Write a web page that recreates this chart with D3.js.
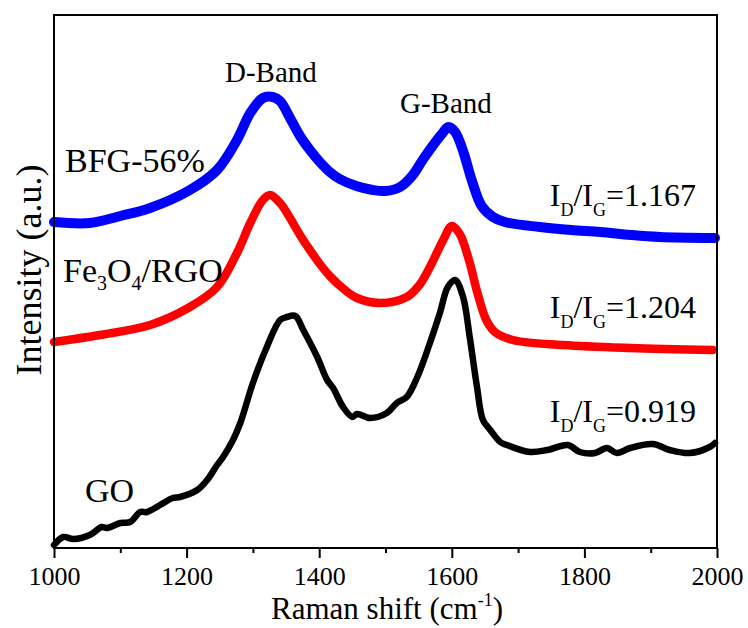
<!DOCTYPE html>
<html>
<head>
<meta charset="utf-8">
<script src="https://cdn.jsdelivr.net/npm/d3@7"></script>
<style>
  body { margin: 0; background: #fff; }
  text { font-family: "Liberation Serif", "Times New Roman", serif; fill: #000; }
</style>
</head>
<body>
<div id="chart"></div>
<script>
// dimensions
var width = 748;
var height = 628;
var margin = {top: 15, right: 31, bottom: 80, left: 54};

// Raman shift (cm-1) of each read point, and intensity (a.u., offset stacked)
var blueShift = [1000, 1054, 1100, 1145, 1205, 1246, 1276, 1296, 1315, 1330, 1341, 1356, 1371, 1386, 1401, 1416, 1431, 1456, 1481, 1500, 1522, 1540, 1556, 1572, 1585, 1595, 1605, 1617, 1630, 1645, 1662, 1680, 1733, 1780, 1824, 1870, 1914, 1997];
var blueInt   = [326, 325, 332, 340, 358, 378, 408, 435, 450, 451, 447, 430, 412, 398, 386, 376, 369, 362, 358, 357, 361, 372, 388, 403, 414, 421, 416, 397, 368, 342, 331, 326, 321, 318, 316, 313, 311, 310];

var redShift = [1000, 1069, 1145, 1205, 1246, 1276, 1296, 1315, 1326, 1341, 1356, 1371, 1386, 1401, 1416, 1437, 1457, 1492, 1532, 1550, 1567, 1587, 1600, 1612, 1625, 1640, 1652, 1665, 1692, 1768, 1869, 1994];
var redInt   = [206, 213, 223, 241, 261, 295, 325, 348, 353, 345, 330, 313, 298, 284, 272, 259, 250, 245, 251, 262, 281, 308, 322, 314, 290, 252, 228, 216, 208, 203, 200, 198];

var goShift = [1000, 1014, 1029, 1054, 1072, 1080, 1100, 1115, 1130, 1140, 1160, 1179, 1190, 1216, 1231, 1246, 1255, 1270, 1281, 1300, 1321, 1341, 1351, 1364, 1376, 1397, 1412, 1421, 1436, 1450, 1457, 1477, 1502, 1517, 1532, 1548, 1567, 1582, 1594, 1605, 1617, 1627, 1638, 1647, 1658, 1673, 1683, 1718, 1744, 1775, 1793, 1816, 1834, 1849, 1869, 1903, 1929, 1959, 1989, 1997];
var goInt   = [3, 11, 9, 13, 21, 20, 25, 26, 36, 36, 43, 50, 51, 58, 68, 83, 91, 108, 125, 165, 201, 228, 231, 232, 218, 191, 168, 160, 141, 131, 134, 130, 135, 145, 151, 171, 205, 235, 261, 268, 251, 211, 161, 128, 118, 106, 103, 96, 98, 103, 96, 95, 100, 95, 100, 104, 98, 95, 101, 105];

var xTicks = [1000, 1200, 1400, 1600, 1800, 2000];
var xMinor = [1100, 1300, 1500, 1700, 1900];

var svg = d3.select("#chart")
    .append("svg")
    .attr("width", width)
    .attr("height", height);

var x = d3.scaleLinear()
    .domain([1000, 2000])
    .range([margin.left, width - margin.right]);

var y = d3.scaleLinear()
    .domain([0, 533])
    .range([height - margin.bottom, margin.top]);

function zip(xs, ys) {
    return xs.map(function (d, i) { return [d, ys[i]]; });
}

var line = d3.line()
    .x(function (d) { return x(d[0]); })
    .y(function (d) { return y(d[1]); })
    .curve(d3.curveCatmullRom.alpha(0.5));

// curves
var series = [
    {data: zip(goShift, goInt), color: "#000000", w: 6.5},
    {data: zip(redShift, redInt), color: "#ff0000", w: 8.5},
    {data: zip(blueShift, blueInt), color: "#0000ff", w: 10}
];

svg.append("g")
    .selectAll("path")
    .data(series)
    .enter()
    .append("path")
    .attr("d", function (d) { return line(d.data); })
    .style("fill", "none")
    .style("stroke", function (d) { return d.color; })
    .style("stroke-width", function (d) { return d.w; })
    .style("stroke-linejoin", "round")
    .style("stroke-linecap", "round");

// frame
svg.append("rect")
    .attr("x", margin.left)
    .attr("y", margin.top)
    .attr("width", width - margin.left - margin.right)
    .attr("height", height - margin.top - margin.bottom)
    .style("fill", "none")
    .style("stroke", "#000")
    .style("stroke-width", 2);

// bottom axis
var xAxis = svg.append("g")
    .attr("transform", "translate(0," + (height - margin.bottom) + ")")
    .call(d3.axisBottom(x).tickValues(xTicks).tickSize(10).tickPadding(9).tickFormat(d3.format("d")));
xAxis.select(".domain").remove();
xAxis.selectAll(".tick line").style("stroke-width", 2);
xAxis.selectAll("text")
    .style("font-size", "26px")
    .style("font-family", "Liberation Serif");

var xAxisMinor = svg.append("g")
    .attr("transform", "translate(0," + (height - margin.bottom) + ")")
    .call(d3.axisBottom(x).tickValues(xMinor).tickSize(5).tickFormat(""));
xAxisMinor.select(".domain").remove();
xAxisMinor.selectAll(".tick line").style("stroke-width", 2);

// axis titles
var xTitle = svg.append("text")
    .attr("x", 387)
    .attr("y", 619)
    .attr("text-anchor", "middle")
    .style("font-size", "31px");
xTitle.append("tspan").text("Raman shift (cm");
xTitle.append("tspan").attr("dy", -13).style("font-size", "18px").text("-1");
xTitle.append("tspan").attr("dy", 13).text(")");

svg.append("text")
    .attr("transform", "translate(41,270) rotate(-90)")
    .attr("text-anchor", "middle")
    .style("font-size", "36px")
    .text("Intensity (a.u.)");

// band labels
svg.append("text").attr("x", 225).attr("y", 82).style("font-size", "29px").text("D-Band");
svg.append("text").attr("x", 400).attr("y", 113).style("font-size", "29px").text("G-Band");

// sample labels
svg.append("text").attr("x", 65).attr("y", 172).style("font-size", "34px").text("BFG-56%");
var fe = svg.append("text").attr("x", 63).attr("y", 282).style("font-size", "34px");
fe.append("tspan").text("Fe");
fe.append("tspan").attr("dy", 8).style("font-size", "20px").text("3");
fe.append("tspan").attr("dy", -8).text("O");
fe.append("tspan").attr("dy", 8).style("font-size", "20px").text("4");
fe.append("tspan").attr("dy", -8).text("/RGO");
svg.append("text").attr("x", 85).attr("y", 502).style("font-size", "34px").text("GO");

// ID/IG ratio labels
var ratios = ["1.167", "1.204", "0.919"];
var ratioY = [206, 318, 422];
ratios.forEach(function (r, i) {
    var t = svg.append("text")
        .attr("x", 696)
        .attr("y", ratioY[i])
        .attr("text-anchor", "end")
        .style("font-size", "32px");
    t.append("tspan").text("I");
    t.append("tspan").attr("dy", 10).style("font-size", "18px").text("D");
    t.append("tspan").attr("dy", -10).text("/I");
    t.append("tspan").attr("dy", 10).style("font-size", "18px").text("G");
    t.append("tspan").attr("dy", -10).text("=" + r);
});
</script>
</body>
</html>
